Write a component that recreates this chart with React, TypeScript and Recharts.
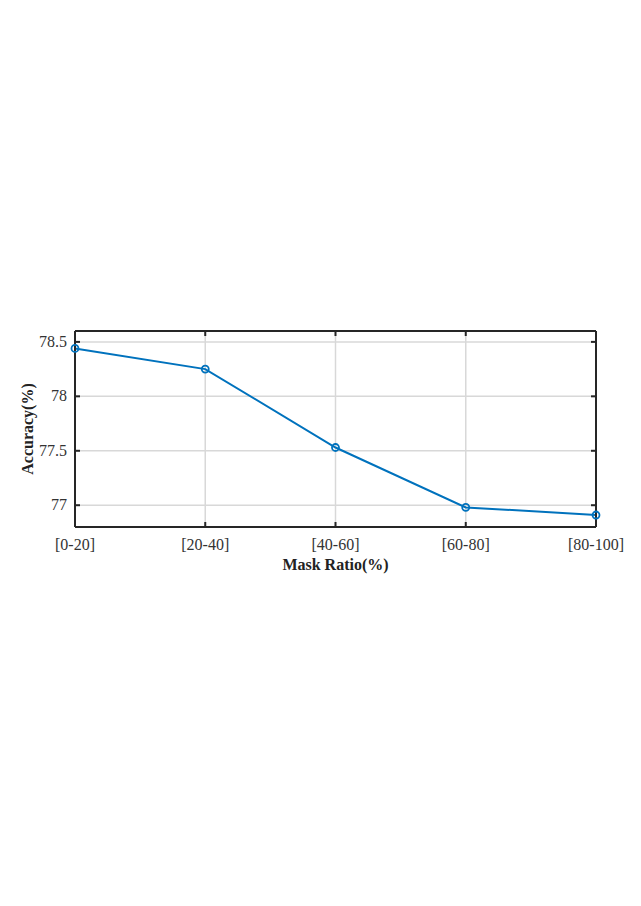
import React from 'react';
import {
  LineChart,
  Line,
  XAxis,
  YAxis,
  CartesianGrid,
} from 'recharts';

const maskRatios = ['[0-20]', '[20-40]', '[40-60]', '[60-80]', '[80-100]'];
const accuracy = [78.44, 78.25, 77.53, 76.98, 76.91];
const yTicks = [77, 77.5, 78, 78.5];

const data = maskRatios.map((name, i) => ({ name, acc: accuracy[i] }));

const W = 641;
const H = 906;
const LEFT = 75;
const RIGHT = 596;
const TOP = 331;
const BOTTOM = 527;
const FRAME = '#262626';
const FONT = 'Liberation Serif, serif';
const TICK_LEN = 5;
const X_AXIS_H = 30;
const Y_AXIS_W = 60;

function BottomTick(props: any) {
  const { x, y, payload } = props;
  return (
    <g>
      <line x1={x} y1={y} x2={x} y2={y - TICK_LEN} stroke={FRAME} strokeWidth={2} />
      <text x={x} y={y + 23} textAnchor="middle" style={{ fontFamily: FONT, fontSize: 16 }} fill="#333">
        {payload.value}
      </text>
    </g>
  );
}

function TopTick(props: any) {
  const { x, y } = props;
  return <line x1={x} y1={y} x2={x} y2={y + TICK_LEN} stroke={FRAME} strokeWidth={2} />;
}

function LeftTick(props: any) {
  const { x, y, payload } = props;
  return (
    <g>
      <line x1={x} y1={y} x2={x + TICK_LEN} y2={y} stroke={FRAME} strokeWidth={2} />
      <text x={x - 8} y={y + 5} textAnchor="end" style={{ fontFamily: FONT, fontSize: 16 }} fill="#333">
        {payload.value}
      </text>
    </g>
  );
}

function RightTick(props: any) {
  const { x, y } = props;
  return <line x1={x} y1={y} x2={x - TICK_LEN} y2={y} stroke={FRAME} strokeWidth={2} />;
}

export default function App() {
  return (
    <div style={{ position: 'absolute', left: 0, top: 0, width: W, height: H, background: '#fff' }}>
      <LineChart
        width={W}
        height={H}
        data={data}
        margin={{
          top: TOP - 1,
          right: W - RIGHT - 1,
          bottom: H - BOTTOM - X_AXIS_H,
          left: LEFT - Y_AXIS_W,
        }}
      >
        <CartesianGrid stroke="#d8d8d8" strokeWidth={1.5} />
        <XAxis
          dataKey="name"
          height={X_AXIS_H}
          tickSize={0}
          tickMargin={0}
          axisLine={{ stroke: FRAME, strokeWidth: 2 }}
          tick={<BottomTick />}
          interval={0}
        />
        <XAxis
          xAxisId="top"
          orientation="top"
          dataKey="name"
          height={1}
          tickSize={0}
          tickMargin={0}
          axisLine={{ stroke: FRAME, strokeWidth: 2 }}
          tick={<TopTick />}
          interval={0}
        />
        <YAxis
          domain={[76.8, 78.6]}
          ticks={yTicks}
          width={Y_AXIS_W}
          tickSize={0}
          tickMargin={0}
          axisLine={{ stroke: FRAME, strokeWidth: 2 }}
          tick={<LeftTick />}
          allowDataOverflow
        />
        <YAxis
          yAxisId="right"
          orientation="right"
          domain={[76.8, 78.6]}
          ticks={yTicks}
          width={1}
          tickSize={0}
          tickMargin={0}
          axisLine={{ stroke: FRAME, strokeWidth: 2 }}
          tick={<RightTick />}
          allowDataOverflow
        />
        <Line
          dataKey="acc"
          stroke="#0072BD"
          strokeWidth={2}
          dot={{ r: 3.5, stroke: '#0072BD', strokeWidth: 1.8, fill: 'none' }}
          isAnimationActive={false}
        />
        <text
          x={(LEFT + RIGHT) / 2}
          y={570}
          textAnchor="middle"
          style={{ fontFamily: FONT, fontSize: 16, fontWeight: 'bold' }}
          fill="#222"
        >
          Mask Ratio(%)
        </text>
        <text
          x={33}
          y={(TOP + BOTTOM) / 2}
          textAnchor="middle"
          style={{ fontFamily: FONT, fontSize: 16, fontWeight: 'bold' }}
          fill="#222"
          transform={`rotate(-90 33 ${(TOP + BOTTOM) / 2})`}
        >
          Accuracy(%)
        </text>
      </LineChart>
    </div>
  );
}
